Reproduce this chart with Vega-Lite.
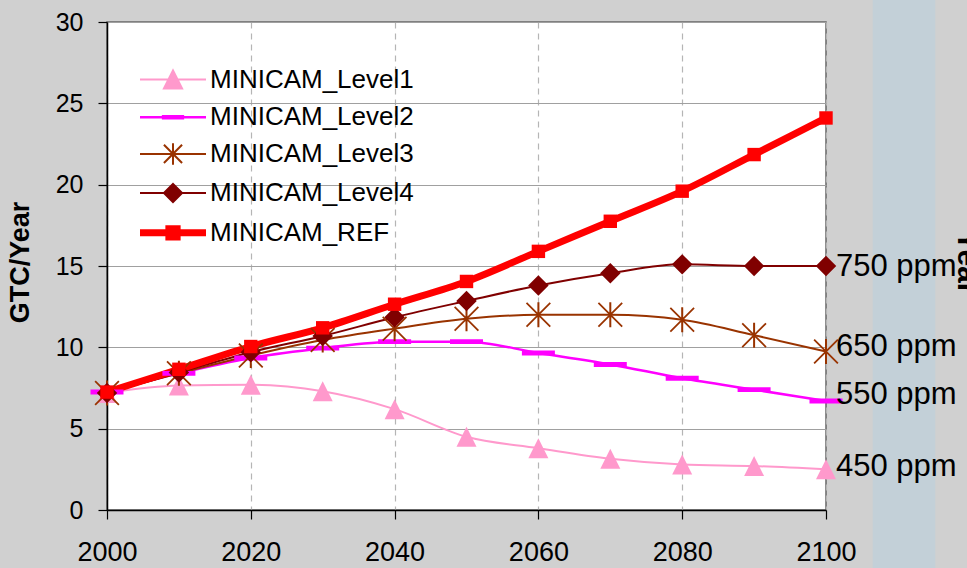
{
  "$schema": "https://vega.github.io/schema/vega-lite/v6.json",
  "width": 719,
  "height": 488,
  "autosize": {"type": "none"},
  "padding": {"left": 107, "top": 22, "right": 141, "bottom": 58},
  "background": "#d0d0d0",
  "config": {
    "font": "Liberation Sans",
    "view": {"fill": "white", "stroke": "#666666", "strokeWidth": 1.5},
    "axis": {"labelFlush": false, "labelOverlap": false, "labelColor": "black", "domainColor": "black", "domainWidth": 1.5, "tickColor": "black", "tickSize": 9, "tickWidth": 1.2}
  },
  "datasets": {
    "main": [
      {"year": 2000, "series": "MINICAM_Level1", "value": 7.2},
      {"year": 2010, "series": "MINICAM_Level1", "value": 7.65},
      {"year": 2020, "series": "MINICAM_Level1", "value": 7.7},
      {"year": 2030, "series": "MINICAM_Level1", "value": 7.3},
      {"year": 2040, "series": "MINICAM_Level1", "value": 6.2},
      {"year": 2050, "series": "MINICAM_Level1", "value": 4.5},
      {"year": 2060, "series": "MINICAM_Level1", "value": 3.8},
      {"year": 2070, "series": "MINICAM_Level1", "value": 3.15},
      {"year": 2080, "series": "MINICAM_Level1", "value": 2.8},
      {"year": 2090, "series": "MINICAM_Level1", "value": 2.7},
      {"year": 2100, "series": "MINICAM_Level1", "value": 2.5},
      {"year": 2000, "series": "MINICAM_Level2", "value": 7.25},
      {"year": 2010, "series": "MINICAM_Level2", "value": 8.4},
      {"year": 2020, "series": "MINICAM_Level2", "value": 9.35},
      {"year": 2030, "series": "MINICAM_Level2", "value": 9.95},
      {"year": 2040, "series": "MINICAM_Level2", "value": 10.35},
      {"year": 2050, "series": "MINICAM_Level2", "value": 10.35},
      {"year": 2060, "series": "MINICAM_Level2", "value": 9.65},
      {"year": 2070, "series": "MINICAM_Level2", "value": 8.95},
      {"year": 2080, "series": "MINICAM_Level2", "value": 8.1},
      {"year": 2090, "series": "MINICAM_Level2", "value": 7.4},
      {"year": 2100, "series": "MINICAM_Level2", "value": 6.7},
      {"year": 2000, "series": "MINICAM_Level3", "value": 7.2},
      {"year": 2010, "series": "MINICAM_Level3", "value": 8.4},
      {"year": 2020, "series": "MINICAM_Level3", "value": 9.5},
      {"year": 2030, "series": "MINICAM_Level3", "value": 10.45},
      {"year": 2040, "series": "MINICAM_Level3", "value": 11.15},
      {"year": 2050, "series": "MINICAM_Level3", "value": 11.75},
      {"year": 2060, "series": "MINICAM_Level3", "value": 12.0},
      {"year": 2070, "series": "MINICAM_Level3", "value": 12.0},
      {"year": 2080, "series": "MINICAM_Level3", "value": 11.7},
      {"year": 2090, "series": "MINICAM_Level3", "value": 10.75},
      {"year": 2100, "series": "MINICAM_Level3", "value": 9.75},
      {"year": 2000, "series": "MINICAM_Level4", "value": 7.2},
      {"year": 2010, "series": "MINICAM_Level4", "value": 8.45},
      {"year": 2020, "series": "MINICAM_Level4", "value": 9.7},
      {"year": 2030, "series": "MINICAM_Level4", "value": 10.7},
      {"year": 2040, "series": "MINICAM_Level4", "value": 11.85},
      {"year": 2050, "series": "MINICAM_Level4", "value": 12.85},
      {"year": 2060, "series": "MINICAM_Level4", "value": 13.8},
      {"year": 2070, "series": "MINICAM_Level4", "value": 14.55},
      {"year": 2080, "series": "MINICAM_Level4", "value": 15.1},
      {"year": 2090, "series": "MINICAM_Level4", "value": 15.0},
      {"year": 2100, "series": "MINICAM_Level4", "value": 15.0},
      {"year": 2000, "series": "MINICAM_REF", "value": 7.25},
      {"year": 2010, "series": "MINICAM_REF", "value": 8.65},
      {"year": 2020, "series": "MINICAM_REF", "value": 10.05},
      {"year": 2030, "series": "MINICAM_REF", "value": 11.2},
      {"year": 2040, "series": "MINICAM_REF", "value": 12.65},
      {"year": 2050, "series": "MINICAM_REF", "value": 14.05},
      {"year": 2060, "series": "MINICAM_REF", "value": 15.9},
      {"year": 2070, "series": "MINICAM_REF", "value": 17.75},
      {"year": 2080, "series": "MINICAM_REF", "value": 19.6},
      {"year": 2090, "series": "MINICAM_REF", "value": 21.85},
      {"year": 2100, "series": "MINICAM_REF", "value": 24.1}
    ],
    "labels": [
      {"label": "750 ppm", "value": 14.95},
      {"label": "650 ppm", "value": 10.0},
      {"label": "550 ppm", "value": 7.05},
      {"label": "450 ppm", "value": 2.65}
    ],
    "deco": [{"name": "strip"}]
  },
  "layer": [
    {
      "data": {"name": "deco"},
      "mark": {"type": "rect", "clip": false, "color": "#c3d0d8"},
      "encoding": {
        "x": {"datum": 2106.5, "type": "quantitative"},
        "x2": {"datum": 2115.2},
        "y": {"datum": -3.6, "type": "quantitative"},
        "y2": {"datum": 31.4}
      }
    },
    {
      "data": {"name": "main"},
      "mark": {"type": "line", "interpolate": "monotone"},
      "encoding": {
        "x": {
          "field": "year", "type": "quantitative",
          "scale": {"domain": [2000, 2100], "nice": false, "zero": false},
          "axis": {
            "title": null, "values": [2000, 2020, 2040, 2060, 2080, 2100], "format": "d",
            "grid": true, "gridDash": [6, 5], "gridColor": "#b5b5b5", "gridWidth": 1.2,
            "labelFontSize": 27, "labelPadding": 20
          }
        },
        "y": {
          "field": "value", "type": "quantitative",
          "scale": {"domain": [0, 30], "nice": false},
          "axis": {
            "title": "GTC/Year", "values": [0, 5, 10, 15, 20, 25, 30],
            "grid": true, "gridColor": "#a0a0a0", "gridWidth": 1,
            "labelFontSize": 25, "labelPadding": 15,
            "titleFontSize": 27, "titleFontWeight": "bold", "titleColor": "black",
            "titleX": -79, "titleY": 240, "titleAngle": -90, "titleAlign": "center", "titleBaseline": "alphabetic"
          }
        },
        "color": {
          "field": "series", "type": "nominal",
          "scale": {
            "domain": ["MINICAM_Level1", "MINICAM_Level2", "MINICAM_Level3", "MINICAM_Level4", "MINICAM_REF"],
            "range": ["#ff99cc", "#ff00ff", "#993300", "#800000", "#ff0000"]
          },
          "legend": {
            "orient": "none", "legendX": 46, "legendY": 40, "title": null,
            "symbolSize": 1089, "labelFontSize": 26, "labelFont": "Liberation Sans", "labelColor": "black",
            "labelLimit": 400, "rowPadding": 6.2, "labelOffset": 17, "padding": 0,
            "encode": {
              "symbols": {
                "update": {
                  "shape": {"signal": "datum.value === 'MINICAM_Level1' ? 'M-2,0H2M0,-0.55L0.55,0.55H-0.55Z' : datum.value === 'MINICAM_Level2' ? 'M-2,0H2M-0.6,-0.06H0.6V0.06H-0.6Z' : datum.value === 'MINICAM_Level3' ? 'M-2,0H2M-0.55,-0.55L0.55,0.55M0.55,-0.55L-0.55,0.55M0,-0.65V0.65' : datum.value === 'MINICAM_Level4' ? 'M-2,0H2M0,-0.55L0.55,0L0,0.55L-0.55,0Z' : 'M-2,0H2M-0.25,-0.25H0.25V0.25H-0.25Z'"},
                  "size": {"value": 1089},
                  "fill": {"signal": "scale('color', datum.value)"},
                  "stroke": {"signal": "scale('color', datum.value)"},
                  "strokeWidth": {"signal": "datum.value === 'MINICAM_REF' ? 7 : 2"},
                  "opacity": {"value": 1},
                  "fillOpacity": {"value": 1},
                  "strokeOpacity": {"value": 1}
                }
              }
            }
          }
        },
        "strokeWidth": {
          "field": "series", "type": "nominal",
          "scale": {
            "type": "ordinal",
            "domain": ["MINICAM_Level1", "MINICAM_Level2", "MINICAM_Level3", "MINICAM_Level4", "MINICAM_REF"],
            "range": [2, 2.5, 2, 2, 7]
          },
          "legend": null
        }
      }
    },
    {
      "data": {"name": "main"},
      "transform": [{"filter": "datum.series === 'MINICAM_Level1'"}],
      "mark": {"type": "point", "filled": true, "opacity": 1, "strokeWidth": 0, "shape": "M0,-1L1,1H-1Z", "size": 400},
      "encoding": {
        "x": {"field": "year", "type": "quantitative"},
        "y": {"field": "value", "type": "quantitative"},
        "color": {"field": "series", "type": "nominal"}
      }
    },
    {
      "data": {"name": "main"},
      "transform": [{"filter": "datum.series === 'MINICAM_Level2'"}],
      "mark": {"type": "point", "filled": true, "opacity": 1, "strokeWidth": 0, "shape": "M-1,-0.15H1V0.15H-1Z", "size": 1089},
      "encoding": {
        "x": {"field": "year", "type": "quantitative"},
        "y": {"field": "value", "type": "quantitative"},
        "color": {"field": "series", "type": "nominal"}
      }
    },
    {
      "data": {"name": "main"},
      "transform": [{"filter": "datum.series === 'MINICAM_Level3'"}],
      "mark": {"type": "point", "filled": true, "opacity": 1, "strokeWidth": 0, "shape": "M-0.08,-1H0.08V1H-0.08ZM-1,-0.9L-0.9,-1L1,0.9L0.9,1ZM1,-0.9L-0.9,1L-1,0.9L0.9,-1Z", "size": 625},
      "encoding": {
        "x": {"field": "year", "type": "quantitative"},
        "y": {"field": "value", "type": "quantitative"},
        "color": {"field": "series", "type": "nominal"}
      }
    },
    {
      "data": {"name": "main"},
      "transform": [{"filter": "datum.series === 'MINICAM_Level4'"}],
      "mark": {"type": "point", "filled": true, "opacity": 1, "strokeWidth": 0, "shape": "M0,-1L1,0L0,1L-1,0Z", "size": 420},
      "encoding": {
        "x": {"field": "year", "type": "quantitative"},
        "y": {"field": "value", "type": "quantitative"},
        "color": {"field": "series", "type": "nominal"}
      }
    },
    {
      "data": {"name": "main"},
      "transform": [{"filter": "datum.series === 'MINICAM_REF'"}],
      "mark": {"type": "point", "filled": true, "opacity": 1, "strokeWidth": 0, "shape": "M-1,-1H1V1H-1Z", "size": 180},
      "encoding": {
        "x": {"field": "year", "type": "quantitative"},
        "y": {"field": "value", "type": "quantitative"},
        "color": {"field": "series", "type": "nominal"}
      }
    },
    {
      "data": {"name": "labels"},
      "mark": {"type": "text", "align": "left", "baseline": "middle", "dx": 10, "fontSize": 31, "font": "Liberation Sans", "color": "black", "clip": false},
      "encoding": {
        "x": {"datum": 2100, "type": "quantitative"},
        "y": {"field": "value", "type": "quantitative"},
        "text": {"field": "label"}
      }
    },
    {
      "data": {"name": "deco"},
      "mark": {"type": "text", "angle": 90, "align": "center", "baseline": "alphabetic", "fontSize": 30, "fontWeight": "bold", "font": "Liberation Sans", "color": "black", "clip": false},
      "encoding": {
        "x": {"datum": 2118.4, "type": "quantitative"},
        "y": {"datum": 15.2, "type": "quantitative"},
        "text": {"value": "Year"}
      }
    }
  ]
}
